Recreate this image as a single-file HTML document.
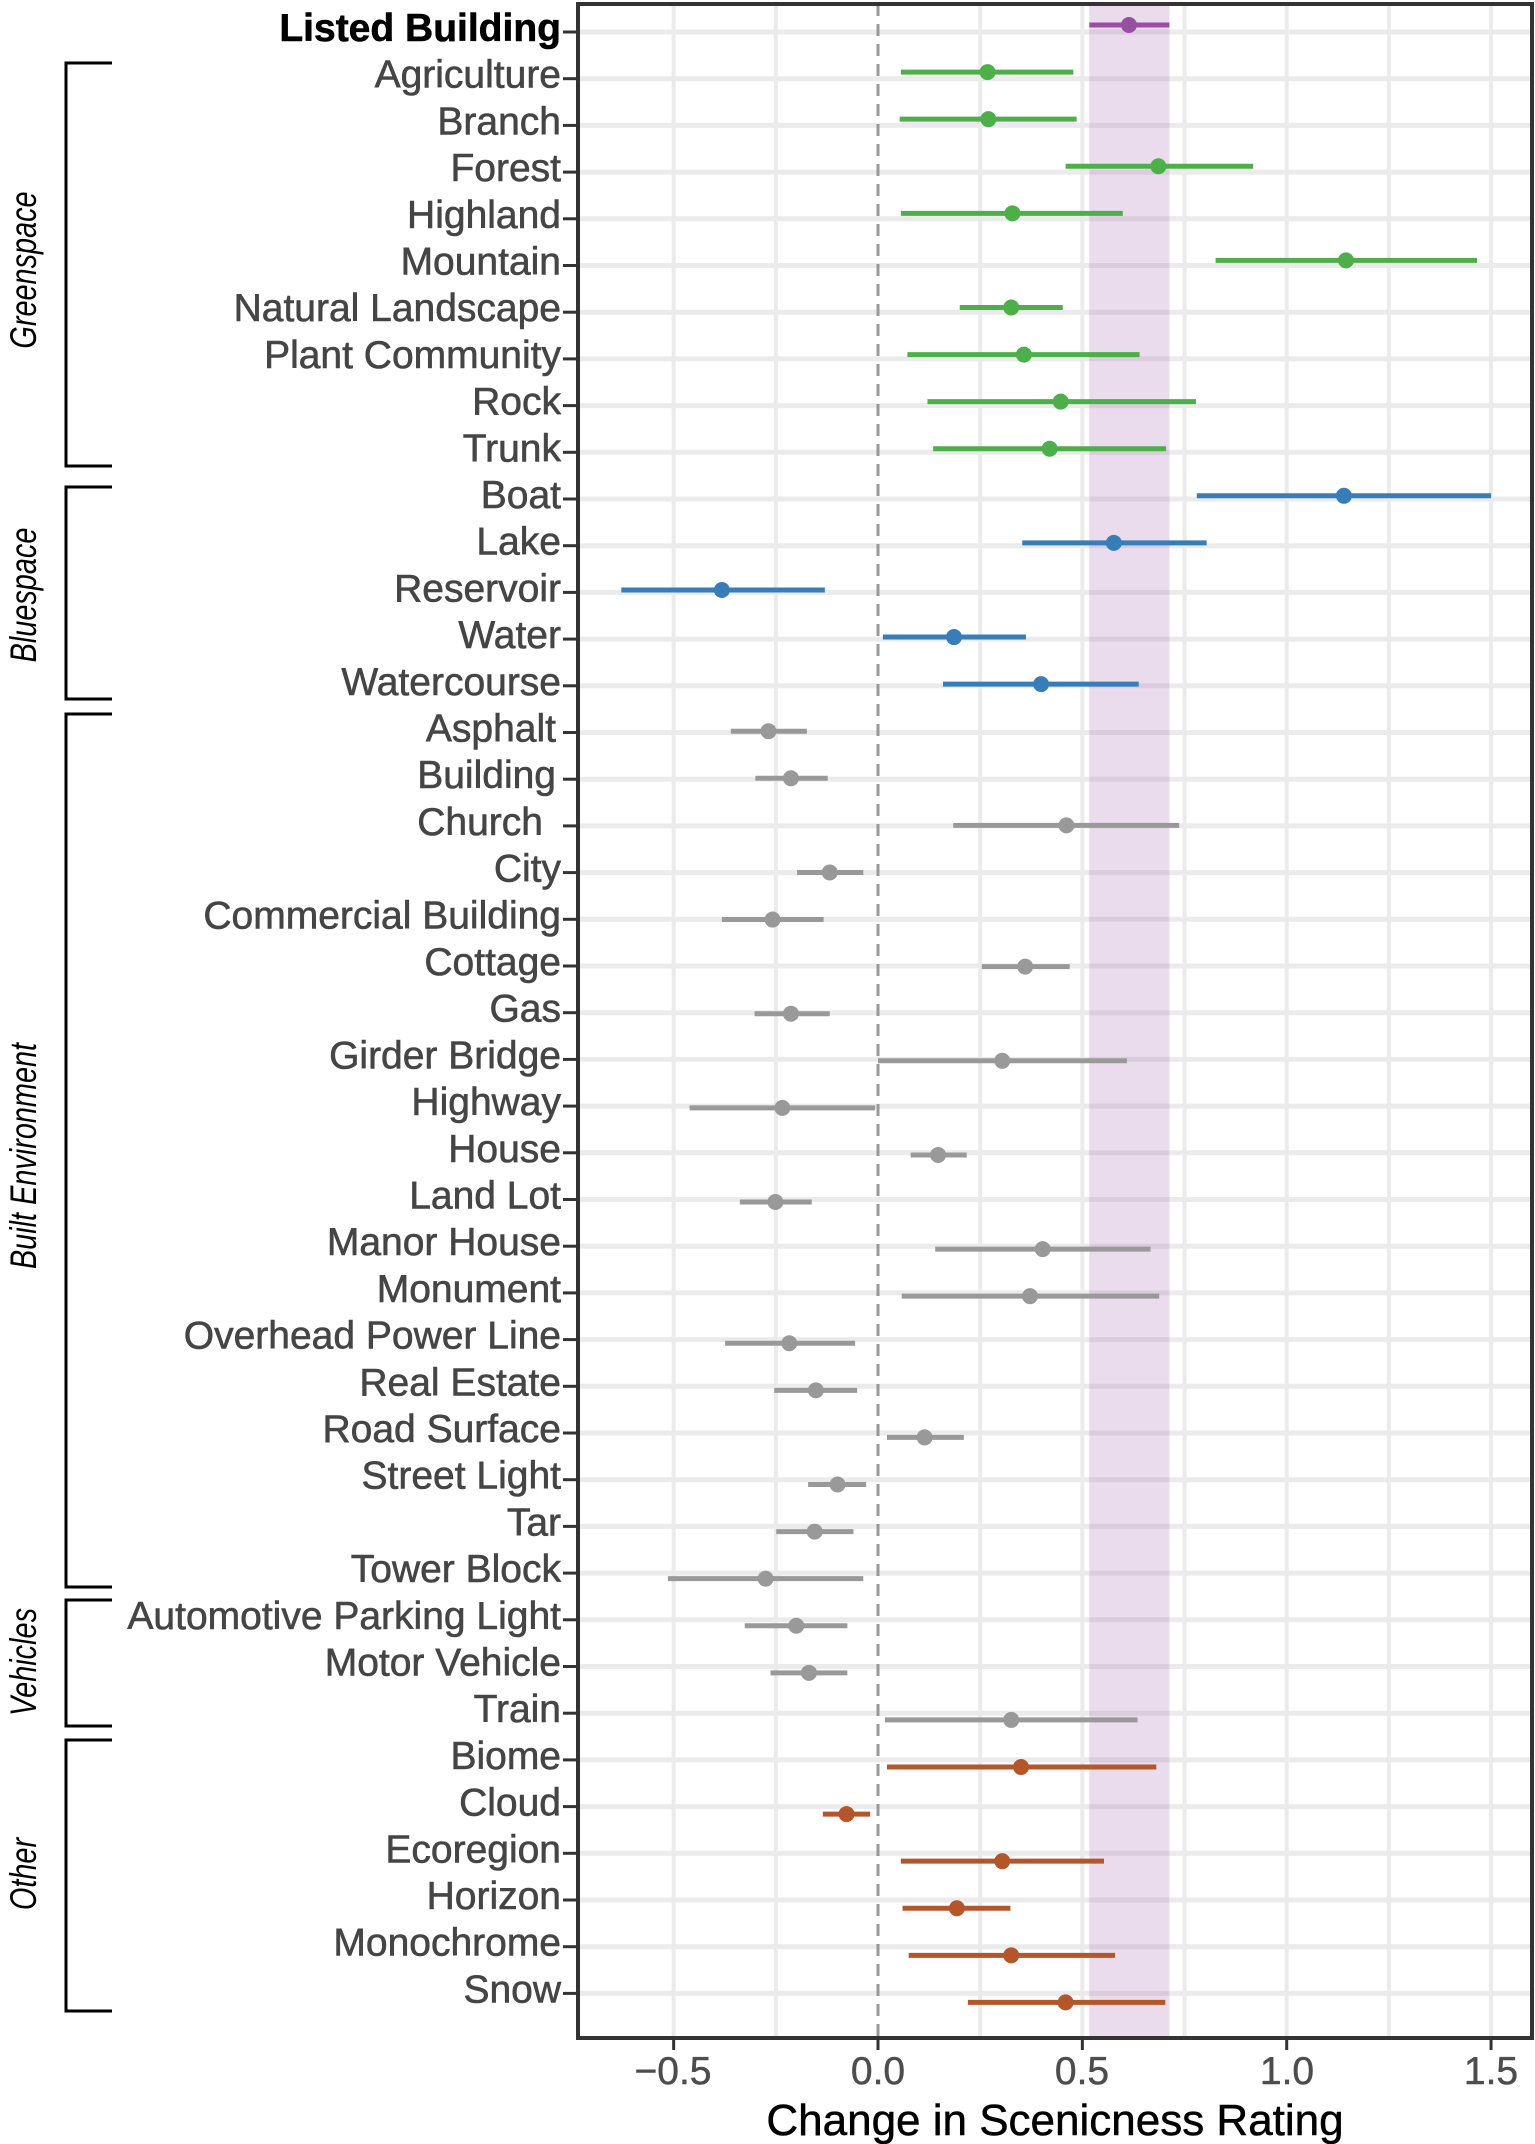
<!DOCTYPE html>
<html><head><meta charset="utf-8"><style>
html,body{margin:0;padding:0;background:#fff}
svg{display:block}
.l{font-family:"Liberation Sans",Arial,sans-serif;font-size:39px;fill:#454545;stroke:#454545;stroke-width:0.6;text-anchor:end}
.g{font-family:"Liberation Sans",Arial,sans-serif;font-size:37px;font-style:italic;fill:#000;text-anchor:middle}
.t{font-family:"Liberation Sans",Arial,sans-serif;font-size:39px;fill:#4d4d4d;stroke:#4d4d4d;stroke-width:0.5;text-anchor:middle}
</style></head><body>
<svg id="s" width="1535" height="2144" viewBox="0 0 1535 2144" xmlns="http://www.w3.org/2000/svg">
<g id="bg"></g>
<g id="data"></g>
<rect x="578" y="4" width="954" height="2034" fill="none" stroke="#333" stroke-width="4"/>
<g id="ticks"></g>
<g transform="translate(0,-3)">
<text class="l" x="561" y="44" style="font-weight:bold;fill:#000;stroke:#000">Listed Building</text>
<text class="l" x="561" y="90.7">Agriculture</text>
<text class="l" x="561" y="137.4">Branch</text>
<text class="l" x="561" y="184.1">Forest</text>
<text class="l" x="561" y="230.8">Highland</text>
<text class="l" x="561" y="277.5">Mountain</text>
<text class="l" x="561" y="324.2">Natural Landscape</text>
<text class="l" x="561" y="370.9">Plant Community</text>
<text class="l" x="561" y="417.6">Rock</text>
<text class="l" x="561" y="464.3">Trunk</text>
<text class="l" x="561" y="511">Boat</text>
<text class="l" x="561" y="557.7">Lake</text>
<text class="l" x="561" y="604.4">Reservoir</text>
<text class="l" x="561" y="651.1">Water</text>
<text class="l" x="561" y="697.8">Watercourse</text>
<text class="l" x="556" y="744.5">Asphalt</text>
<text class="l" x="556" y="791.2">Building</text>
<text class="l" x="543" y="837.9">Church</text>
<text class="l" x="561" y="884.6">City</text>
<text class="l" x="561" y="931.3">Commercial Building</text>
<text class="l" x="561" y="978">Cottage</text>
<text class="l" x="561" y="1024.7">Gas</text>
<text class="l" x="561" y="1071.4">Girder Bridge</text>
<text class="l" x="561" y="1118.1">Highway</text>
<text class="l" x="561" y="1164.8">House</text>
<text class="l" x="561" y="1211.5">Land Lot</text>
<text class="l" x="561" y="1258.2">Manor House</text>
<text class="l" x="561" y="1304.9">Monument</text>
<text class="l" x="561" y="1351.6">Overhead Power Line</text>
<text class="l" x="561" y="1398.3">Real Estate</text>
<text class="l" x="561" y="1445">Road Surface</text>
<text class="l" x="561" y="1491.7">Street Light</text>
<text class="l" x="561" y="1538.4">Tar</text>
<text class="l" x="561" y="1585.1">Tower Block</text>
<text class="l" x="561" y="1631.8">Automotive Parking Light</text>
<text class="l" x="561" y="1678.5">Motor Vehicle</text>
<text class="l" x="561" y="1725.2">Train</text>
<text class="l" x="561" y="1771.9">Biome</text>
<text class="l" x="561" y="1818.6">Cloud</text>
<text class="l" x="561" y="1865.3">Ecoregion</text>
<text class="l" x="561" y="1912">Horizon</text>
<text class="l" x="561" y="1958.7">Monochrome</text>
<text class="l" x="561" y="2005.4">Snow</text>
</g>
<g stroke="#000" stroke-width="3" fill="none">
<path d="M112,63 H66 V466 H112"/>
<path d="M112,487 H66 V699 H112"/>
<path d="M112,714 H66 V1587 H112"/>
<path d="M112,1600 H66 V1726 H112"/>
<path d="M112,1740 H66 V2011 H112"/>
</g>
<text class="g" transform="translate(36,270) rotate(-90) scale(0.78,1)">Greenspace</text>
<text class="g" transform="translate(36,595) rotate(-90) scale(0.78,1)">Bluespace</text>
<text class="g" transform="translate(36,1156) rotate(-90) scale(0.78,1)">Built Environment</text>
<text class="g" transform="translate(36,1662) rotate(-90) scale(0.78,1)">Vehicles</text>
<text class="g" transform="translate(36,1874) rotate(-90) scale(0.78,1)">Other</text>
<text class="t" x="673" y="2084">−0.5</text>
<text class="t" x="878" y="2084">0.0</text>
<text class="t" x="1082" y="2084">0.5</text>
<text class="t" x="1287" y="2084">1.0</text>
<text class="t" x="1491" y="2084">1.5</text>
<text x="1055" y="2135" style="font-family:'Liberation Sans',Arial,sans-serif;font-size:44px;fill:#000;stroke:#000;stroke-width:0.5;text-anchor:middle">Change in Scenicness Rating</text>
</svg>
<script>
var X=function(v){return 878+v*408.7;};
var ns="http://www.w3.org/2000/svg";
function el(p,t,a){var e=document.createElementNS(ns,t);for(var k in a)e.setAttribute(k,a[k]);p.appendChild(e);return e;}
var bg=document.getElementById('bg'),dg=document.getElementById('data'),tk=document.getElementById('ticks');
for(var i=0;i<43;i++){var y=32+46.7*i;el(bg,'line',{x1:578,x2:1532,y1:y,y2:y,stroke:'#ebebeb','stroke-width':5});
el(tk,'line',{x1:563,x2:578,y1:y,y2:y,stroke:'#333','stroke-width':3});}
for(var v=-0.5;v<=1.5;v+=0.25){if(Math.abs(v)<0.01)continue;el(bg,'line',{x1:X(v),x2:X(v),y1:4,y2:2038,stroke:'#ebebeb','stroke-width':4});}
el(bg,'rect',{x:X(0.517),y:4,width:X(0.713)-X(0.517),height:2034,fill:'#984ea3','fill-opacity':0.2});
el(bg,'line',{x1:878,x2:878,y1:4,y2:2038,stroke:'#999','stroke-width':3,'stroke-dasharray':'12,8'});
for(var v=-0.5;v<=1.5;v+=0.5)el(tk,'line',{x1:X(v),x2:X(v),y1:2038,y2:2050,stroke:'#333','stroke-width':3});
var G='#4daf4a',B='#377eb8',R='#999999',O='#b5562a',P='#984ea3';
var d=[[0.614,0.517,0.713,P],[0.268,0.056,0.478,G],[0.27,0.053,0.486,G],[0.686,0.459,0.918,G],[0.329,0.056,0.599,G],[1.145,0.826,1.466,G],[0.326,0.2,0.452,G],[0.357,0.072,0.64,G],[0.447,0.121,0.778,G],[0.42,0.135,0.705,G],
[1.14,0.78,1.5,B],[0.577,0.353,0.804,B],[-0.382,-0.628,-0.13,B],[0.186,0.012,0.362,B],[0.399,0.159,0.638,B],
[-0.268,-0.36,-0.174,R],[-0.213,-0.3,-0.123,R],[0.461,0.184,0.737,R],[-0.118,-0.198,-0.036,R],[-0.258,-0.382,-0.133,R],[0.36,0.254,0.469,R],[-0.213,-0.302,-0.118,R],[0.304,0,0.609,R],[-0.234,-0.461,-0.007,R],[0.147,0.08,0.217,R],[-0.251,-0.338,-0.162,R],[0.403,0.14,0.667,R],[0.372,0.058,0.688,R],[-0.217,-0.374,-0.056,R],[-0.152,-0.254,-0.051,R],[0.114,0.022,0.21,R],[-0.099,-0.171,-0.029,R],[-0.155,-0.249,-0.06,R],[-0.275,-0.514,-0.036,R],
[-0.2,-0.326,-0.075,R],[-0.169,-0.263,-0.075,R],[0.326,0.017,0.635,R],
[0.35,0.022,0.681,O],[-0.077,-0.135,-0.019,O],[0.304,0.056,0.553,O],[0.193,0.06,0.324,O],[0.326,0.075,0.58,O],[0.459,0.22,0.703,O]];
d.forEach(function(r,i){var y=32+46.7*i-7+16*i/42;
el(dg,'line',{x1:X(r[1]),x2:X(r[2]),y1:y,y2:y,stroke:r[3],'stroke-width':5});
el(dg,'circle',{cx:X(r[0]),cy:y,r:8,fill:r[3]});});
</script>
</body></html>
